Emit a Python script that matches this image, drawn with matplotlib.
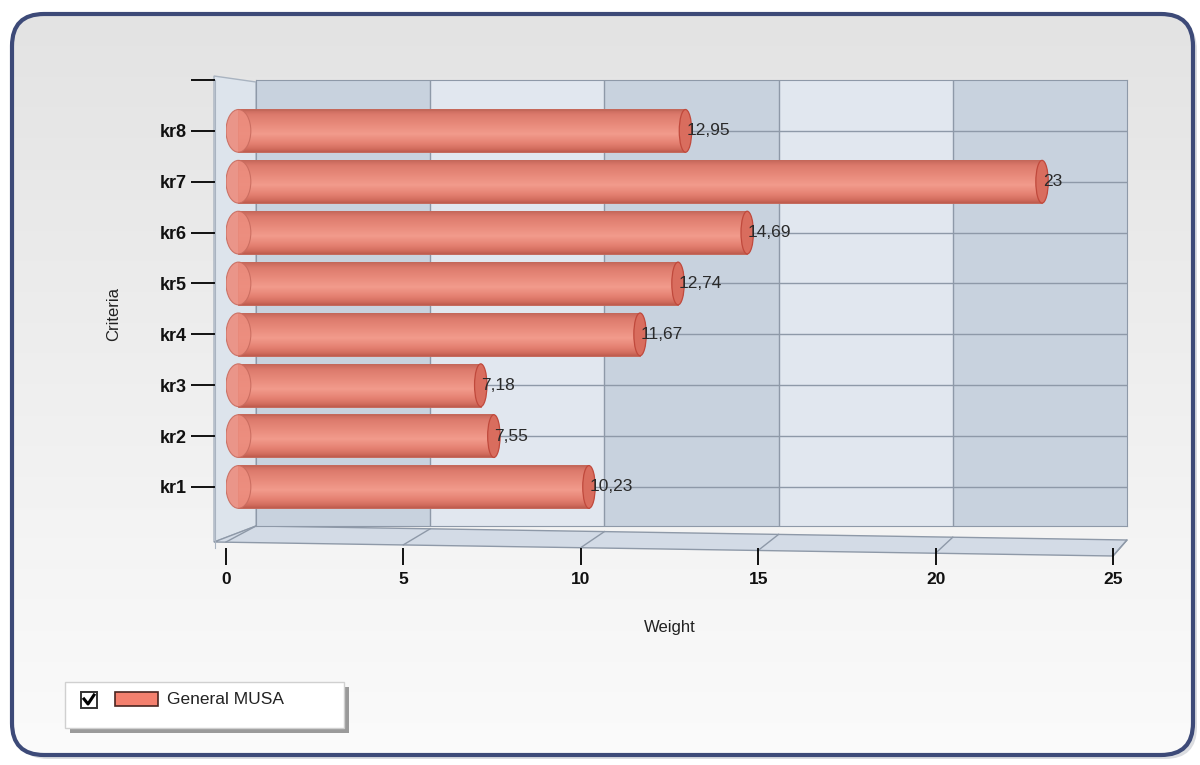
import numpy as np
import matplotlib.pyplot as plt
from matplotlib.colors import LinearSegmentedColormap
from matplotlib.patches import FancyBboxPatch, Rectangle, Ellipse, Polygon

plt.rcParams['font.family'] = ['Liberation Sans', 'DejaVu Sans']

# data
criteria = ["kr1", "kr2", "kr3", "kr4", "kr5", "kr6", "kr7", "kr8"]
weights = [10.23, 7.55, 7.18, 11.67, 12.74, 14.69, 23.0, 12.95]
series_name = "General MUSA"
x_ticks = [0, 5, 10, 15, 20, 25]

W, H = 1200, 765
fig = plt.figure(figsize=(W / 100, H / 100), dpi=100)
fig.patch.set_facecolor("white")


def fig_rect(x0, y0, x1, y1):
    # pixel box (top-left origin) -> figure fraction rect
    return [x0 / W, 1 - y1 / H, (x1 - x0) / W, (y1 - y0) / H]


# background layer in pixel coordinates
bg = fig.add_axes([0, 0, 1, 1], zorder=0)
bg.axis("off")

shadow = FancyBboxPatch((16, 18), 1181, 741, boxstyle="round,pad=0,rounding_size=32",
                        fc="#b8bcc4", ec="none", alpha=0.5)
bg.add_patch(shadow)
frame = FancyBboxPatch((12, 14), 1181, 741, boxstyle="round,pad=0,rounding_size=32",
                       fc="none", ec="#3d4a78", lw=3, zorder=3)
bg.add_patch(frame)
grad = np.linspace(0, 1, 256).reshape(-1, 1)
bg_cmap = LinearSegmentedColormap.from_list("bg", ["#e3e3e3", "#efefef", "#fbfbfb"])
im = bg.imshow(grad, cmap=bg_cmap, extent=(12, 1193, 755, 14), aspect="auto", zorder=1)
im.set_clip_path(frame)
bg.set_xlim(0, W)
bg.set_ylim(H, 0)

# plot geometry (pixels)
front_x0, front_x1 = 226, 1113
back_x0, back_x1 = 256, 1127
top_y, front_y, back_y = 80, 548, 526
ymin, ymax = -1.2, 8.0
px_per_unit = (front_y - top_y) / (ymax - ymin)

# left side wall
bg.add_patch(Polygon([(214, 76), (back_x0, 82), (back_x0, back_y), (214, front_y - 6)],
                     closed=True, fc="#dde4ec", ec="#a9b3c0", lw=1, zorder=2))
# floor
bg.add_patch(Polygon([(front_x0 - 12, front_y - 6), (back_x0, back_y), (back_x1, back_y + 14),
                      (front_x1, front_y + 8)],
                     closed=True, fc="#d3dbe6", ec="#8e99a8", lw=1, zorder=2))
for v in x_ticks:
    fx = front_x0 + v * (front_x1 - front_x0) / 25
    bx = back_x0 + v * (back_x1 - back_x0) / 25
    fy = front_y - 6 + v * 14 / 25
    by = back_y + v * 14 / 25
    bg.plot([fx, bx], [fy, by], color="#8e99a8", lw=1, zorder=2)

# back wall, same vertical scale as the bars
back = fig.add_axes(fig_rect(back_x0, top_y, back_x1, back_y), zorder=1)
back.set_xlim(0, 25)
back.set_ylim(ymax - (back_y - top_y) / px_per_unit, ymax)
for i in range(0, 25, 5):
    back.axvspan(i, i + 5, color="#c8d2de" if (i // 5) % 2 == 0 else "#e1e7ef", lw=0)
for v in x_ticks[1:-1]:
    back.axvline(v, color="#8e99a8", lw=1)
for j in range(len(criteria)):
    back.axhline(j, color="#8e99a8", lw=1)
back.set_xticks([])
back.set_yticks([])
for s in back.spines.values():
    s.set_color("#8e99a8")

# main axes with the bars
ax = fig.add_axes(fig_rect(front_x0, top_y, front_x1, front_y), zorder=2)
ax.patch.set_alpha(0)
for side in ["top", "right", "bottom"]:
    ax.spines[side].set_visible(False)
ax.spines["left"].set_position(("outward", 8))
ax.spines["left"].set_color("#a9b3c0")

bar_cmap = LinearSegmentedColormap.from_list(
    "cyl", [(0.0, "#c4675a"), (0.12, "#dc7a6c"), (0.35, "#e88a7b"), (0.58, "#f29b8c"),
            (0.8, "#e58172"), (0.93, "#d26d5e"), (1.0, "#bf5c4e")])
bar_grad = np.linspace(0, 1, 96).reshape(-1, 1)
bh = 0.84
cap_w = 0.7
for j, v in enumerate(weights):
    y0, y1 = j - bh / 2, j + bh / 2
    ax.imshow(bar_grad, cmap=bar_cmap, extent=(cap_w / 2, v, y0, y1),
              aspect="auto", origin="upper", zorder=3, interpolation="bilinear")
    ax.add_patch(Rectangle((cap_w / 2, y0), v - cap_w / 2, bh, fc="none",
                           ec="#c4685a", lw=0.7, zorder=4))
    ax.add_patch(Ellipse((v, j), 0.35, bh, fc="#d96d5e", ec="#c0493c", lw=0.9, zorder=4))
    ax.add_patch(Ellipse((cap_w / 2, j), cap_w, bh, fc="#ec8d7e", ec="#c96c5f",
                         lw=0.8, alpha=0.9, zorder=5))
    ax.text(v + 0.02, j, f"{v:g}".replace(".", ","), va="center", ha="left",
            fontsize=12.5, color="#2a2a2a", zorder=6)
ax.set_xlim(0, 25)
ax.set_ylim(ymin, ymax)

ax.set_xticks(x_ticks)
ax.set_xticklabels([str(t) for t in x_ticks], fontweight="bold", fontsize=12.5)
ax.set_yticks(list(range(len(criteria))) + [ymax])
ax.set_yticklabels(criteria + [""], fontweight="bold", fontsize=13)
ax.tick_params(axis="x", length=12, width=1.3, color="black", pad=5, labelcolor="#111111")
ax.tick_params(axis="y", length=17, width=1.3, color="black", pad=3, labelcolor="#111111")
ax.set_xlabel("Weight", fontsize=12, color="#222222", labelpad=24)
ax.set_ylabel("Criteria", fontsize=12, color="#222222", labelpad=28)

# legend box
bg.add_patch(Rectangle((70, 687), 279, 46, fc="#9a9a9a", ec="none", zorder=4))
bg.add_patch(Rectangle((65, 682), 279, 46, fc="white", ec="#d0d0d0", lw=1, zorder=5))
bg.add_patch(Rectangle((81, 692), 16, 16, fc="white", ec="#333333", lw=1.4, zorder=6))
bg.plot([84, 88, 94], [699, 704, 695], color="black", lw=2.2, zorder=7)
bg.add_patch(Rectangle((115, 692), 43, 14, fc="#f4806e", ec="#4a2520", lw=1.2, zorder=6))
bg.text(167, 700, series_name, fontsize=12.5, va="center", ha="left", color="#222222", zorder=7)

fig.savefig("out.png", dpi=100, facecolor="white")
